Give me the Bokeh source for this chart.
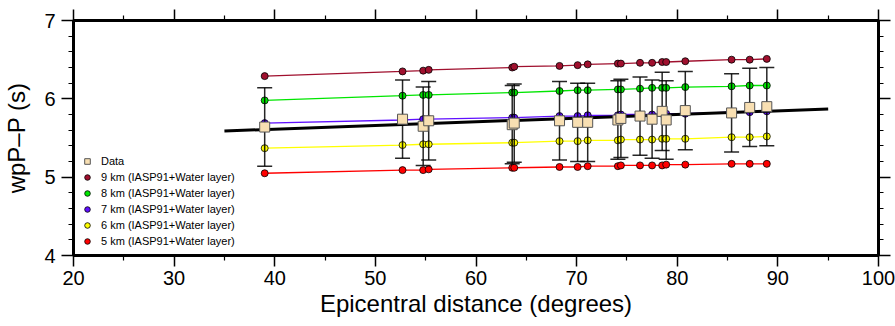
from bokeh.plotting import figure
from bokeh.models import (Range1d, LinearAxis, FixedTicker, Legend, LegendItem,
                          CustomJSTickFormatter)
from bokeh.embed import file_html
from bokeh.resources import INLINE

# ---------------- data ----------------
dist = [39.0, 52.7, 54.75, 55.3, 63.6, 63.8, 68.3, 70.1, 71.1, 74.1, 74.4,
        76.3, 77.5, 78.5, 78.9, 80.8, 85.4, 87.2, 88.9]
obs = [5.64, 5.74, 5.65, 5.72, 5.67, 5.69, 5.72, 5.70, 5.70, 5.73, 5.75,
       5.78, 5.74, 5.84, 5.73, 5.85, 5.82, 5.89, 5.90]
obs_err = [0.50, 0.50, 0.50, 0.50, 0.50, 0.50, 0.50, 0.50, 0.50, 0.50, 0.50,
           0.50, 0.50, 0.50, 0.50, 0.50, 0.50, 0.50, 0.50]

m9 = [6.29, 6.35, 6.36, 6.37, 6.40, 6.41, 6.42, 6.43, 6.44, 6.45, 6.45,
      6.46, 6.46, 6.47, 6.47, 6.48, 6.50, 6.50, 6.51]
m8 = [5.98, 6.04, 6.05, 6.05, 6.08, 6.08, 6.10, 6.11, 6.11, 6.12, 6.12,
      6.13, 6.14, 6.14, 6.14, 6.15, 6.16, 6.17, 6.17]
m7 = [5.69, 5.73, 5.74, 5.74, 5.76, 5.76, 5.78, 5.78, 5.79, 5.79, 5.80,
      5.80, 5.80, 5.81, 5.81, 5.81, 5.83, 5.83, 5.84]
m6 = [5.37, 5.41, 5.42, 5.42, 5.44, 5.44, 5.46, 5.46, 5.47, 5.47, 5.48,
      5.48, 5.48, 5.49, 5.49, 5.49, 5.51, 5.51, 5.52]
m5 = [5.05, 5.09, 5.09, 5.10, 5.12, 5.12, 5.13, 5.13, 5.14, 5.14, 5.15,
      5.15, 5.15, 5.15, 5.16, 5.16, 5.17, 5.17, 5.17]

fit_x = [35.0, 95.0]
fit_y = [5.59, 5.87]

model_labels = ["9 km (IASP91+Water layer)", "8 km (IASP91+Water layer)",
                "7 km (IASP91+Water layer)", "6 km (IASP91+Water layer)",
                "5 km (IASP91+Water layer)"]
model_colors = ["#A0102E", "#00E600", "#6010FF", "#FFFF00", "#FF0000"]

x_ticks = [20, 30, 40, 50, 60, 70, 80, 90, 100]
x_minor = [25, 35, 45, 55, 65, 75, 85, 95]
y_ticks = [4, 5, 6, 7]
y_minor = [4.2, 4.4, 4.6, 4.8, 5.2, 5.4, 5.6, 5.8, 6.2, 6.4, 6.6, 6.8]

FONT = "Liberation Sans"

# ---------------- figure ----------------
p = figure(width=895, height=326, output_backend="svg", toolbar_location=None,
           x_range=Range1d(20, 100), y_range=Range1d(4, 7),
           min_border_left=71, min_border_right=17,
           min_border_top=20, min_border_bottom=71,
           x_axis_label="Epicentral distance (degrees)",
           y_axis_label="wpP\u2013P (s)")
p.grid.visible = False
p.outline_line_color = "black"
p.outline_line_width = 3
p.background_fill_color = "white"
p.border_fill_color = "white"

xt = FixedTicker(ticks=x_ticks, minor_ticks=x_minor)
yt = FixedTicker(ticks=y_ticks, minor_ticks=y_minor)

def style_axis(ax, major_len):
    ax.axis_line_color = None
    ax.major_tick_in = 0
    ax.major_tick_out = major_len
    ax.minor_tick_in = 0
    ax.minor_tick_out = 5
    ax.major_tick_line_width = 1.5
    ax.minor_tick_line_width = 1.2
    ax.major_tick_line_color = "black"
    ax.minor_tick_line_color = "black"
    ax.major_label_text_font = FONT
    ax.major_label_text_font_size = "20px"
    ax.major_label_text_color = "black"
    ax.axis_label_text_font = FONT
    ax.axis_label_text_font_size = "24px"
    ax.axis_label_text_font_style = "normal"
    ax.axis_label_text_color = "black"

xa = p.xaxis[0]
ya = p.yaxis[0]
xa.ticker = xt
ya.ticker = yt
style_axis(xa, 11)
style_axis(ya, 12)
xa.major_label_standoff = 4
xa.axis_label_standoff = 2
ya.major_label_standoff = 6
ya.axis_label_standoff = 11

blank = CustomJSTickFormatter(code="return ''")
top = LinearAxis(ticker=xt, formatter=blank)
right = LinearAxis(ticker=yt, formatter=blank)
for ax, ln in ((top, 11), (right, 12)):
    style_axis(ax, ln)
    ax.major_label_text_font_size = "0px"
    ax.major_label_standoff = 0
p.add_layout(top, "above")
p.add_layout(right, "right")

# ---------------- glyphs ----------------
series = [m9, m8, m7, m6, m5]
dot_renderers = []
for vals, col in zip(series, model_colors):
    p.line(dist, vals, line_color=col, line_width=1.3)
for vals, col in zip(series, model_colors):
    r = p.scatter(dist, vals, size=7, fill_color=col, line_color="black",
                  line_width=0.8)
    dot_renderers.append(r)

upper = [o + e for o, e in zip(obs, obs_err)]
lower = [o - e for o, e in zip(obs, obs_err)]
p.segment(x0=dist, y0=lower, x1=dist, y1=upper, line_color="black",
          line_width=1.5, line_alpha=0.85)
p.scatter(dist, upper, marker="dash", size=15, line_color="black",
          line_width=1.5, line_alpha=0.85)
p.scatter(dist, lower, marker="dash", size=15, line_color="black",
          line_width=1.5, line_alpha=0.85)

p.line(fit_x, fit_y, line_color="black", line_width=3)

sq = p.scatter(dist, obs, marker="square", size=10, fill_color="#F8DFB2",
               line_color="#555555", line_width=1)

items = [LegendItem(label="Data", renderers=[sq])]
for lab, r in zip(model_labels, dot_renderers):
    items.append(LegendItem(label=lab, renderers=[r]))
legend = Legend(items=items, location=(7, 6), orientation="vertical",
                glyph_height=16, glyph_width=14, label_height=16,
                spacing=0, padding=0, margin=0, label_standoff=7,
                label_text_font=FONT, label_text_font_size="11px",
                label_text_color="black",
                border_line_alpha=0, background_fill_alpha=0)
p.add_layout(legend, "center")

open("out.html", "w").write(file_html(p, INLINE))
